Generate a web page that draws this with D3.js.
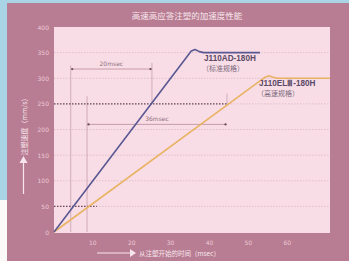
<!DOCTYPE html>
<html>
<head>
<meta charset="utf-8">
<script src="https://cdn.jsdelivr.net/npm/d3@7"></script>
<style>
  body { margin: 0; background: #fff; }
  svg { display: block; }
</style>
</head>
<body>
<svg id="chart" width="349" height="261"></svg>
<script>
// data (msec, mm/s)
var standardMsec = [0, 34, 35.3, 36.3, 37.4, 38.5, 53];
var standardSpeed = [0, 340, 353, 356, 352, 350, 350];
var fastMsec = [0, 53, 54.3, 55.3, 56.4, 57.5, 71];
var fastSpeed = [0, 295, 302, 305, 302, 300, 300];
var yTicks = [0, 50, 100, 150, 200, 250, 300, 350, 400];
var xTicks = [10, 20, 30, 40, 50, 60];

var W = 349, H = 261;
var svg = d3.select("#chart");

// backdrop: photo edge + mauve panel
svg.append("rect").attr("width", W).attr("height", H).attr("fill", "#fbfaf8");
svg.append("rect").attr("width", W).attr("height", 200).attr("fill", "#a9d4e6");
svg.append("rect").attr("x", 7).attr("y", 3).attr("width", W - 7).attr("height", H - 3).attr("fill", "#b97d93");

var x = d3.scaleLinear().domain([0, 71]).range([54, 330]);
var y = d3.scaleLinear().domain([0, 400]).range([232, 27]);

svg.append("rect")
  .attr("x", x(0)).attr("y", y(400))
  .attr("width", x(71) - x(0)).attr("height", y(0) - y(400) + 1)
  .attr("fill", "#f9dde6");

// light dotted grid
svg.append("g").selectAll("line")
  .data(yTicks.filter(function(d){ return d > 0 && d < 400; }))
  .enter().append("line")
  .attr("x1", x(0)).attr("x2", x(71))
  .attr("y1", function(d){ return y(d); }).attr("y2", function(d){ return y(d); })
  .attr("stroke", "#d2b0be").attr("stroke-width", 0.7)
  .attr("stroke-dasharray", "1.5,1.5");

// y axis labels
svg.append("g").selectAll("text")
  .data(yTicks).enter().append("text")
  .attr("x", x(0) - 5).attr("y", function(d){ return y(d) + 2.5; })
  .attr("text-anchor", "end")
  .attr("font-family", "DejaVu Sans, sans-serif").attr("font-size", 6)
  .attr("fill", "#ecc9d5")
  .text(function(d){ return d; });

// x axis labels
svg.append("g").selectAll("text")
  .data(xTicks).enter().append("text")
  .attr("x", function(d){ return x(d); }).attr("y", 245)
  .attr("text-anchor", "middle")
  .attr("font-family", "DejaVu Sans, sans-serif").attr("font-size", 6)
  .attr("fill", "#ecc9d5")
  .text(function(d){ return d; });

// reference lines for the 20msec / 36msec spans
var guide = svg.append("g").attr("stroke", "#c7a0b0").attr("stroke-width", 0.8);
guide.append("line").attr("x1", x(4.3)).attr("x2", x(4.3)).attr("y1", y(325)).attr("y2", y(0));
guide.append("line").attr("x1", x(8.5)).attr("x2", x(8.5)).attr("y1", y(265)).attr("y2", y(0));
guide.append("line").attr("x1", x(25.2)).attr("x2", x(25.2)).attr("y1", y(330)).attr("y2", y(250));
guide.append("line").attr("x1", x(44.5)).attr("x2", x(44.5)).attr("y1", y(270)).attr("y2", y(250));

// dark dotted target lines
svg.append("line").attr("x1", x(0)).attr("x2", x(44.5)).attr("y1", y(250)).attr("y2", y(250))
  .attr("stroke", "#6a4a5c").attr("stroke-width", 1.4).attr("stroke-dasharray", "1.5,1.5");
svg.append("line").attr("x1", x(0)).attr("x2", x(11)).attr("y1", y(50)).attr("y2", y(50))
  .attr("stroke", "#6a4a5c").attr("stroke-width", 1.4).attr("stroke-dasharray", "1.5,1.5");

// span arrows
function span(a, b, v, label) {
  svg.append("line").attr("x1", x(a)).attr("x2", x(b)).attr("y1", y(v)).attr("y2", y(v))
    .attr("stroke", "#b98a9c").attr("stroke-width", 0.8);
  svg.append("circle").attr("cx", x(a) + 1.5).attr("cy", y(v)).attr("r", 1.1).attr("fill", "#6a4a5c");
  svg.append("circle").attr("cx", x(b) - 1.5).attr("cy", y(v)).attr("r", 1.1).attr("fill", "#6a4a5c");
  svg.append("text").attr("x", (x(a) + x(b)) / 2).attr("y", y(v) - 3)
    .attr("text-anchor", "middle")
    .attr("font-family", "DejaVu Sans, sans-serif").attr("font-size", 6)
    .attr("fill", "#8e6e7c").text(label);
}
span(4.3, 25.2, 318, "20msec");
span(8.5, 44.5, 210, "36msec");

// the two speed curves
var line = d3.line().x(function(d){ return x(d[0]); }).y(function(d){ return y(d[1]); });
svg.append("path").datum(d3.zip(fastMsec, fastSpeed))
  .attr("d", line).attr("fill", "none").attr("stroke", "#e9b364").attr("stroke-width", 1.6)
  .attr("stroke-linejoin", "round");
svg.append("path").datum(d3.zip(standardMsec, standardSpeed))
  .attr("d", line).attr("fill", "none").attr("stroke", "#5a5893").attr("stroke-width", 1.6)
  .attr("stroke-linejoin", "round");

// series labels
function seriesLabel(px, py, name, spec) {
  svg.append("text").attr("x", px).attr("y", py)
    .attr("font-family", "Liberation Sans, Arial, sans-serif").attr("font-size", 8.2).attr("font-weight", "bold")
    .attr("fill", "#5a4a66").text(name);
  svg.append("text").attr("x", px - 2).attr("y", py + 10)
    .attr("font-family", "Noto Sans CJK SC, sans-serif").attr("font-size", 7)
    .attr("fill", "#7a6a80").text(spec);
}
seriesLabel(204, 61, "J110AD-180H", "（标准规格）");
seriesLabel(259, 86, "J110ELⅢ-180H", "（高速规格）");

// title
svg.append("text").attr("x", 187).attr("y", 19).attr("text-anchor", "middle")
  .attr("font-family", "Noto Sans CJK SC, sans-serif").attr("font-size", 8.5)
  .attr("fill", "#f6e6ec").text("高速高应答注塑的加速度性能");

// y axis title + arrow
svg.append("text").attr("transform", "translate(27,125) rotate(-90)")
  .attr("text-anchor", "middle")
  .attr("font-family", "Noto Sans CJK SC, sans-serif").attr("font-size", 7)
  .attr("fill", "#f6e6ec").text("注塑速度（mm/s）");
svg.append("line").attr("x1", 23.5).attr("x2", 23.5).attr("y1", 194).attr("y2", 162)
  .attr("stroke", "#f6e6ec").attr("stroke-width", 1.2);
svg.append("path").attr("d", "M19.5,163 L23.5,156 L27.5,163 Z").attr("fill", "#f6e6ec");

// x axis title + arrow
svg.append("line").attr("x1", 97).attr("x2", 130).attr("y1", 253).attr("y2", 253)
  .attr("stroke", "#f6e6ec").attr("stroke-width", 1.2);
svg.append("path").attr("d", "M130,249 L136,253 L130,257 Z").attr("fill", "#f6e6ec");
svg.append("text").attr("x", 139).attr("y", 255.5)
  .attr("font-family", "Noto Sans CJK SC, sans-serif").attr("font-size", 6.5)
  .attr("fill", "#f6e6ec").text("从注塑开始的时间（msec）");
</script>
</body>
</html>
